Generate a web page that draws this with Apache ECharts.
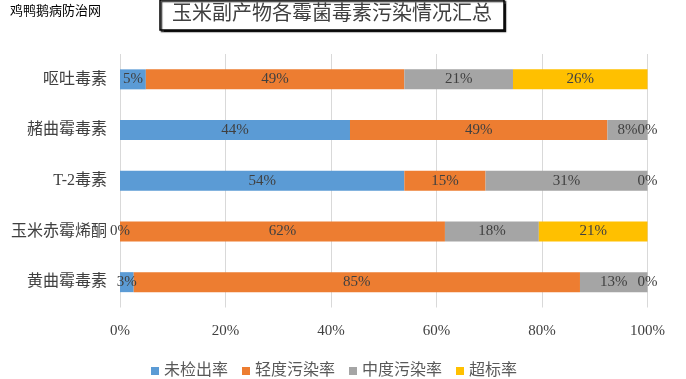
<!DOCTYPE html>
<html>
<head>
<meta charset="utf-8">
<script src="https://cdn.jsdelivr.net/npm/echarts@6/dist/echarts.min.js"></script>
<style>html,body{margin:0;padding:0;background:#fff}#c{width:686px;height:379px}</style>
</head>
<body>
<div id="c"></div>
<script>
const categories = ['呕吐毒素', '赭曲霉毒素', 'T-2毒素', '玉米赤霉烯酮', '黄曲霉毒素'];
const seriesNames = ['未检出率', '轻度污染率', '中度污染率', '超标率'];
const notDetected = [4.9, 43.6, 53.9, 0, 2.6];
const light = [49.0, 48.8, 15.4, 61.6, 84.6];
const moderate = [20.6, 7.6, 30.7, 17.8, 12.8];
const exceeding = [25.5, 0, 0, 20.6, 0];
const xTicks = [0, 20, 40, 60, 80, 100];

const colors = ['#5B9BD5', '#ED7D31', '#A5A5A5', '#FFC000'];
const serif = '"Liberation Serif", "Noto Sans CJK SC", serif';
const cjk = '"Liberation Serif", "Noto Sans CJK SC", sans-serif';
const chart = echarts.init(document.getElementById('c'), null, {renderer: 'canvas'});
const allData = [notDetected, light, moderate, exceeding];
chart.setOption({
  animation: false,
  color: colors,
  title: {
    text: '玉米副产物各霉菌毒素污染情况汇总',
    left: 160, top: 0,
    padding: [4, 12, 4, 12],
    borderColor: '#000', borderWidth: 1.5,
    backgroundColor: '#fff',
    shadowColor: 'rgba(0,0,0,0.8)', shadowOffsetX: 1.5, shadowOffsetY: 1.5, shadowBlur: 1,
    textStyle: {fontFamily: cjk, fontSize: 20, fontWeight: 'normal', color: '#404040', lineHeight: 22}
  },
  graphic: [{
    type: 'text', left: 10, top: 4,
    style: {text: '鸡鸭鹅病防治网', fontFamily: '"Noto Sans CJK SC", sans-serif', fontSize: 13, fill: '#000'}
  }],
  legend: {
    data: seriesNames,
    left: 146, top: 358,
    itemWidth: 8, itemHeight: 8, itemGap: 14,
    icon: 'rect',
    textStyle: {fontFamily: cjk, fontSize: 16, color: '#595959'}
  },
  grid: {left: 120, right: 38.5, top: 54, bottom: 71.5, containLabel: false},
  xAxis: {
    type: 'value', min: 0, max: 100, interval: 20,
    axisLine: {show: false}, axisTick: {show: false},
    splitLine: {show: true, lineStyle: {color: '#D9D9D9', width: 1}},
    axisLabel: {formatter: v => xTicks.includes(v) ? v + '%' : '', fontFamily: serif, fontSize: 15, color: '#404040', margin: 16}
  },
  yAxis: {
    type: 'category', data: categories, inverse: true,
    axisLine: {show: false}, axisTick: {show: false},
    axisLabel: {fontFamily: cjk, fontSize: 16, color: '#404040', margin: 13}
  },
  series: seriesNames.map((name, i) => ({
    name, type: 'bar', stack: 'total', barWidth: 20,
    data: allData[i],
    itemStyle: {color: colors[i]},
    label: {
      show: true, position: 'inside',
      formatter: p => Math.round(p.value) + '%',
      fontFamily: serif, fontSize: 15, color: '#404040'
    }
  }))
});
</script>
</body>
</html>
